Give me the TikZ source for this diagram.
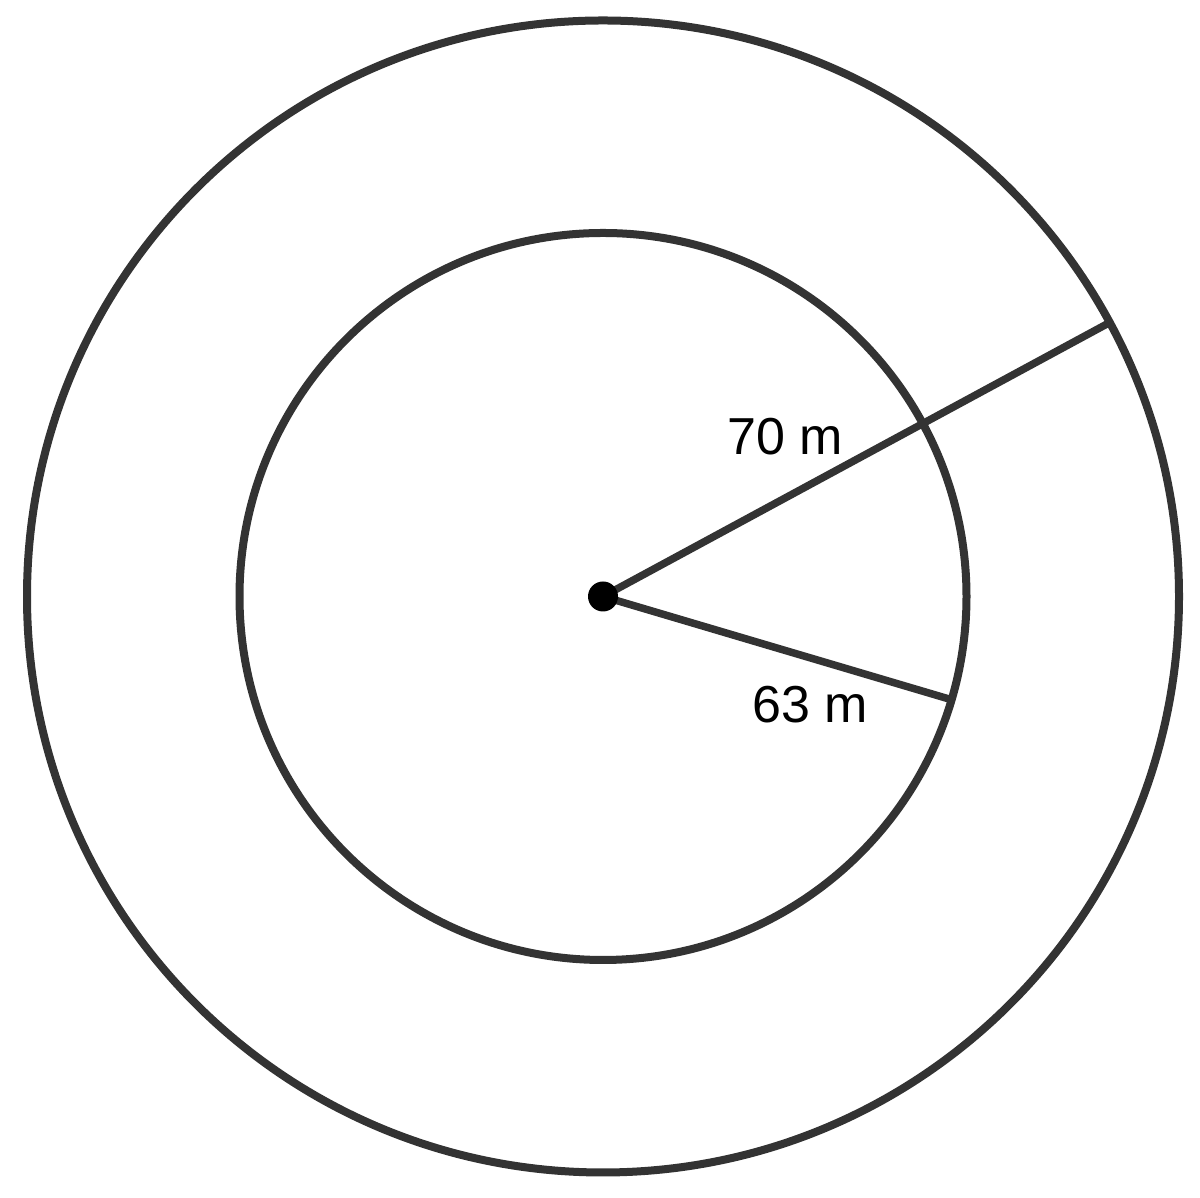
\documentclass[tikz,border=0pt]{standalone}
\usepackage{fontspec}
\setmainfont{Liberation Sans}
\usetikzlibrary{calc}
\definecolor{ink}{HTML}{333333}
\tikzset{
  ring/.style={draw=ink, line width=8pt, circle, inner sep=0pt, fill=none},
  radius line/.style={draw=ink, line width=7.5pt},
  lbl/.style={font=\fontsize{52}{60}\selectfont, inner sep=0pt, text=black},
  centre dot/.style={circle, fill=black, inner sep=0pt, minimum size=30pt}
}
\begin{document}
\begin{tikzpicture}[x=1pt,y=1pt]
\useasboundingbox (0,0) rectangle (1200,1198);
\coordinate (c) at (603,601.5);
\node[ring, minimum size=1152pt] (outer) at (c) {};
\node[ring, minimum size=727pt] (inner) at (c) {};
\coordinate (p) at ($(c)+(28.4:576)$);
\coordinate (q) at ($(c)+(-16.5:363.5)$);
\draw[radius line] (c) -- (p);
\draw[radius line] (c) -- (q);
\node[centre dot] (dot) at (c) {};
\node[lbl] (l70) at (785,761.5) {70 m};
\node[lbl] (l63) at (810.5,493.5) {63 m};
\end{tikzpicture}
\end{document}
